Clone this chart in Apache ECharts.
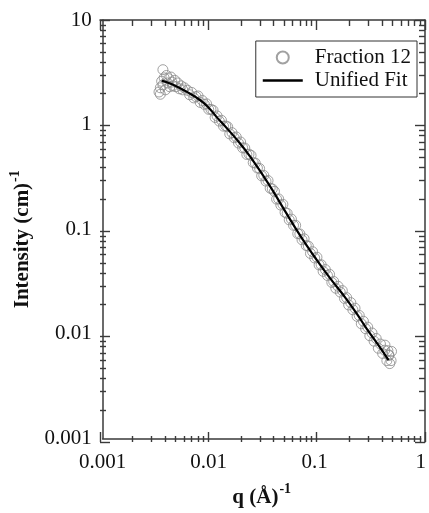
<!DOCTYPE html>
<html>
<head>
<meta charset="utf-8">
<script src="https://cdn.jsdelivr.net/npm/echarts@6/dist/echarts.min.js"></script>
<style>
html, body { margin: 0; padding: 0; background: #fff; }
#chart { width: 429px; height: 513px; }
</style>
</head>
<body>
<div id="chart"></div>
<script>
// measured points, Fraction 12
var qData = [
    0.0034, 0.0035, 0.0035, 0.0036, 0.0037, 0.0037, 0.0038, 0.0039, 0.0040, 0.0041,
    0.0042, 0.0043, 0.0044, 0.0045, 0.0046, 0.0048, 0.0049, 0.0051, 0.0053, 0.0055,
    0.0057, 0.0059,
    0.00631, 0.00661, 0.00692, 0.00724, 0.00759, 0.00794, 0.00832, 0.00871, 0.00912, 0.00955,
    0.0100, 0.0105, 0.0110, 0.0115, 0.0120, 0.0126, 0.0132, 0.0138, 0.0145, 0.0151,
    0.0158, 0.0166, 0.0174, 0.0182, 0.0191, 0.0200, 0.0209, 0.0219, 0.0229, 0.0240,
    0.0251, 0.0263, 0.0275, 0.0288, 0.0302, 0.0316, 0.0331, 0.0347, 0.0363, 0.0380,
    0.0398, 0.0417, 0.0437, 0.0457, 0.0479, 0.0501, 0.0525, 0.0550, 0.0575, 0.0603,
    0.0631, 0.0661, 0.0692, 0.0724, 0.0759, 0.0794, 0.0832, 0.0871, 0.0912, 0.0955,
    0.100, 0.105, 0.110, 0.115, 0.120, 0.126, 0.132, 0.138, 0.145, 0.151,
    0.158, 0.166, 0.174, 0.182, 0.191, 0.200, 0.209, 0.219, 0.229, 0.240,
    0.251, 0.263, 0.275, 0.288, 0.302, 0.316, 0.331, 0.347, 0.363, 0.380,
    0.398, 0.417, 0.437, 0.457, 0.479, 0.501, 0.525,
    0.46, 0.49, 0.51, 0.50, 0.53
];
var iData = [
    2.05, 2.25, 1.95, 2.6, 3.35, 2.4, 2.8, 2.15, 2.95, 2.5,
    2.75, 2.3, 2.85, 2.55, 2.35, 2.65, 2.3, 2.5, 2.2, 2.35,
    2.15, 2.25,
    2.13, 1.93, 2.03, 1.80, 1.85, 1.88, 1.63, 1.70, 1.56, 1.58,
    1.40, 1.40, 1.37, 1.17, 1.21, 1.08, 1.10, 0.966, 0.970, 0.953,
    0.815, 0.838, 0.750, 0.762, 0.667, 0.682, 0.600, 0.597, 0.518, 0.522,
    0.508, 0.434, 0.429, 0.385, 0.381, 0.324, 0.327, 0.288, 0.292, 0.247,
    0.243, 0.230, 0.194, 0.195, 0.170, 0.173, 0.145, 0.142, 0.123, 0.125,
    0.109, 0.109, 0.0908, 0.0902, 0.0793, 0.0811, 0.0698, 0.0690, 0.0587, 0.0610,
    0.0531, 0.0540, 0.0456, 0.0458, 0.0396, 0.0412, 0.0361, 0.0371, 0.0310, 0.0317,
    0.0273, 0.0285, 0.0251, 0.0259, 0.0218, 0.0222, 0.0189, 0.0199, 0.0170, 0.0176,
    0.0147, 0.0150, 0.0125, 0.0132, 0.0112, 0.0116, 0.00959, 0.0102, 0.00851, 0.00904,
    0.00729, 0.00800, 0.00650, 0.00698, 0.00555, 0.00622, 0.00555,
    0.0078, 0.0069, 0.0052, 0.0063, 0.0068
];

// unified fit curve
var fitQ = [0.0036, 0.0045, 0.0061, 0.0084, 0.010, 0.0123, 0.0134, 0.0196, 0.0254, 0.0372,
            0.050, 0.074, 0.100, 0.140, 0.195, 0.250, 0.311, 0.400, 0.497];
var fitI = [2.63, 2.43, 2.08, 1.70, 1.45, 1.135, 1.035, 0.668, 0.473, 0.266,
            0.162, 0.0851, 0.0543, 0.0339, 0.0221, 0.0155, 0.0111, 0.00776, 0.00562];

var xTicks = [0.001, 0.01, 0.1, 1];
var yTicks = [0.001, 0.01, 0.1, 1, 10];

var seriesNames = ['Fraction 12', 'Unified Fit'];

// the tick frame lives in a second grid laid exactly over the first,
// on value axes measured in decades (shifted by +10 so no axis crosses zero)
var SHIFT = 10;
function majorExp(decades) {
    return decades.map(function (d) { return Math.round(Math.log10(d)) + SHIFT; });
}
function minorExp(decades) {
    var out = [];
    for (var d = 0; d < decades.length - 1; d++) {
        for (var k = 2; k <= 9; k++) out.push(Math.log10(decades[d] * k) + SHIFT);
    }
    return out;
}

var FONT = 'Liberation Serif';
var AXIS_COLOR = '#3a3a3a';
var GRID = { left: 100, right: 4, top: 20, bottom: 71 };

function fmt(v) {
    return String(+v.toPrecision(3));
}

function tickAxis(pos, ticks, len, withLine, range) {
    return {
        type: 'value',
        gridIndex: 1,
        position: pos,
        min: range[0],
        max: range[1],
        axisLine: { show: withLine, lineStyle: { color: AXIS_COLOR, width: 1.5 } },
        axisTick: { show: true, inside: true, length: len, customValues: ticks,
                    lineStyle: { width: 1.4 } },
        axisLabel: { show: false },
        splitLine: { show: false }
    };
}

var nameRich = {
    b: { fontFamily: FONT, fontWeight: 'bold', fontSize: 21, color: '#111' },
    s: { fontFamily: FONT, fontWeight: 'bold', fontSize: 14, color: '#111', padding: [0, 0, 16, 1] }
};

var xRange = [-3 + SHIFT, 0 + SHIFT], yRange = [-3 + SHIFT, 1 + SHIFT];
var xMaj = majorExp(xTicks), xMin = minorExp(xTicks);
var yMaj = majorExp(yTicks), yMin = minorExp(yTicks);

var chart = echarts.init(document.getElementById('chart'), null, { renderer: 'canvas' });

var option = {
    backgroundColor: '#fff',
    animation: false,
    grid: [
        { left: GRID.left, right: GRID.right, top: GRID.top, bottom: GRID.bottom },
        { left: GRID.left, right: GRID.right, top: GRID.top, bottom: GRID.bottom }
    ],
    legend: {
        orient: 'vertical',
        right: 12,
        top: 41,
        data: [
            { name: seriesNames[0] },
            { name: seriesNames[1], icon: 'path://M0,0L40,0L40,2.4L0,2.4Z' }
        ],
        itemWidth: 40,
        itemHeight: 12,
        itemGap: 2,
        padding: [6, 6, 6, 7],
        borderColor: '#333',
        borderWidth: 1,
        textStyle: { fontFamily: FONT, fontSize: 21, color: '#111', padding: [0, 0, 0, 7] }
    },
    xAxis: [
        {
            type: 'log', logBase: 10, min: 0.001, max: 1, position: 'bottom', gridIndex: 0,
            axisLine: { show: true, onZero: false, lineStyle: { color: AXIS_COLOR, width: 1.5 } },
            axisTick: { show: false },
            axisLabel: {
                customValues: xTicks, formatter: fmt, color: '#111',
                fontFamily: FONT, fontSize: 21, margin: 13
            },
            splitLine: { show: false },
            name: '{b|q (Å)}{s|-1}',
            nameLocation: 'middle',
            nameGap: 44,
            nameTextStyle: { rich: nameRich }
        },
        tickAxis('bottom', xMaj, 10, false, xRange),
        tickAxis('bottom', xMin, 6, false, xRange),
        tickAxis('top', xMaj, 10, true, xRange),
        tickAxis('top', xMin, 6, false, xRange)
    ],
    yAxis: [
        {
            type: 'log', logBase: 10, min: 0.001, max: 10, position: 'left', gridIndex: 0,
            axisLine: { show: true, onZero: false, lineStyle: { color: AXIS_COLOR, width: 1.5 } },
            axisTick: { show: false },
            axisLabel: {
                customValues: yTicks, formatter: fmt, color: '#111',
                fontFamily: FONT, fontSize: 21, margin: 11
            },
            splitLine: { show: false },
            name: '{b|Intensity (cm)}{s|-1}',
            nameLocation: 'middle',
            nameGap: 62,
            nameTextStyle: { rich: nameRich, padding: [0, 20, 0, 0] }
        },
        tickAxis('left', yMaj, 10, false, yRange),
        tickAxis('left', yMin, 6, false, yRange),
        tickAxis('right', yMaj, 10, true, yRange),
        tickAxis('right', yMin, 6, false, yRange)
    ],
    series: [
        {
            name: seriesNames[0],
            type: 'scatter',
            xAxisIndex: 0,
            yAxisIndex: 0,
            symbol: 'circle',
            symbolSize: 10,
            itemStyle: { color: 'rgba(0,0,0,0)', borderColor: '#8a8a8a', borderWidth: 1 },
            data: qData.map(function (q, i) { return [q, iData[i]]; }),
            z: 2
        },
        {
            name: seriesNames[1],
            type: 'line',
            xAxisIndex: 0,
            yAxisIndex: 0,
            symbol: 'none',
            smooth: 0.5,
            lineStyle: { color: '#000', width: 2.2 },
            itemStyle: { color: '#000' },
            data: fitQ.map(function (q, i) { return [q, fitI[i]]; }),
            z: 3
        }
    ]
};

chart.setOption(option);
</script>
</body>
</html>
